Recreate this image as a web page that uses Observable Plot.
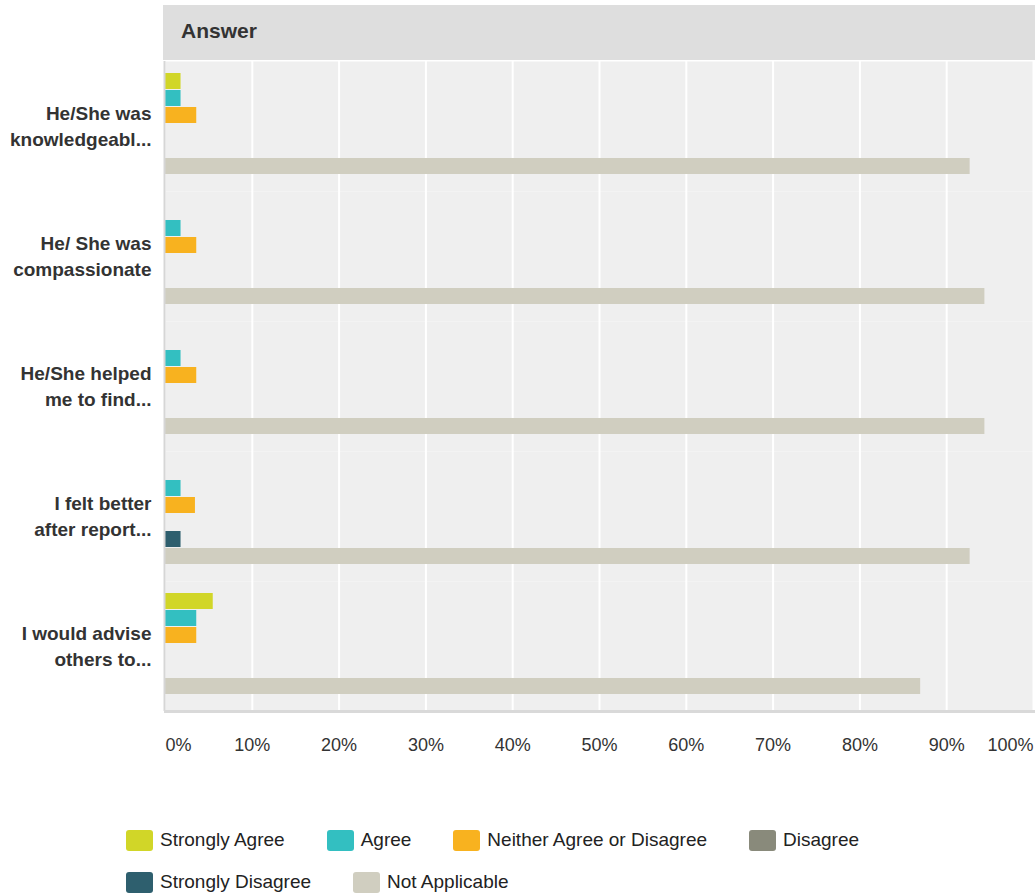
<!DOCTYPE html>
<html>
<head>
<meta charset="utf-8">
<script src="https://cdn.jsdelivr.net/npm/d3@7"></script>
<script src="https://cdn.jsdelivr.net/npm/@observablehq/plot@0.6"></script>
<style>
  body { margin: 0; background: #fff; font-family: "Liberation Sans", Arial, sans-serif; }
  #header { margin: 5px 0 0 163px; height: 55px; background: #dedede; color: #333; font-weight: bold; font-size: 21px; line-height: 52px; padding-left: 18px; box-sizing: border-box; }
  #legend { margin: 57px 0 0 126px; width: 820px; display: flex; flex-wrap: wrap; font-size: 19px; color: #222; }
  .item { display: flex; align-items: center; height: 42px; margin-right: 42px; }
  .sw { width: 27px; height: 21px; border-radius: 3px; margin-right: 7px; }
</style>
</head>
<body>
<div id="header">Answer</div>
<div id="chart"></div>
<div id="legend"></div>
<script>
const categories = [
  "He/She was\nknowledgeabl...",
  "He/ She was\ncompassionate",
  "He/She helped\nme to find...",
  "I felt better\nafter report...",
  "I would advise\nothers to..."
];
const series = ["Strongly Agree", "Agree", "Neither Agree or Disagree", "Disagree", "Strongly Disagree", "Not Applicable"];
const colors = ["#d1d628", "#33bfc1", "#f8b21f", "#898a7b", "#2e5f6e", "#d0cec0"];
const stronglyAgree = [1.79, 0, 0, 0, 5.5];
const agree = [1.79, 1.79, 1.79, 1.79, 3.6];
const neither = [3.6, 3.6, 3.6, 3.45, 3.6];
const disagree = [0, 0, 0, 0, 0];
const stronglyDisagree = [0, 0, 0, 1.79, 0];
const notApplicable = [92.7, 94.4, 94.4, 92.7, 87.0];
const xTicks = [0, 10, 20, 30, 40, 50, 60, 70, 80, 90, 100];

const values = [stronglyAgree, agree, neither, disagree, stronglyDisagree, notApplicable];
const data = [];
categories.forEach((c, ci) => series.forEach((s, si) => data.push({cat: c, series: s, value: values[si][ci]})));

const font = '"Liberation Sans", Arial, sans-serif';
const axisOpts = {tickFormat: d => d + "%", tickSize: 0, tickPadding: 27, fontSize: 18, fill: "#333", label: null};
const chart = Plot.plot({
  width: 1035,
  height: 702,
  marginLeft: 165,
  marginRight: 2,
  marginTop: 0,
  marginBottom: 50,
  style: {fontFamily: font, background: "transparent"},
  x: {domain: [0, 100], axis: null, label: null},
  y: {domain: series, axis: null, paddingInner: 0.03, paddingOuter: 0.76, align: 0.42},
  fy: {domain: categories, padding: 0, axis: null},
  color: {domain: series, range: colors},
  marks: [
    Plot.frame({fill: "#efefef", stroke: "none"}),
    Plot.gridX({ticks: xTicks.slice(1), stroke: "#ffffff", strokeOpacity: 1, strokeWidth: 2}),
    Plot.barX(data, {x: "value", y: "series", fy: "cat", fill: "series"}),
    Plot.ruleX([0], {stroke: "#d6d6d6", strokeWidth: 2, dx: -1}),
    Plot.frame({anchor: "bottom", facetAnchor: "bottom", stroke: "#d9d9d9", strokeWidth: 3}),
    Plot.text(categories, {fy: d => d, text: d => d, frameAnchor: "left", textAnchor: "end", dx: -14, dy: -2, fontSize: 19, fontWeight: "bold", fill: "#333", lineHeight: 1.37}),
    Plot.axisX({...axisOpts, ticks: xTicks.slice(1, -1)}),
    Plot.axisX({...axisOpts, ticks: [xTicks[0]], textAnchor: "start"}),
    Plot.axisX({...axisOpts, ticks: [xTicks[xTicks.length - 1]], textAnchor: "end"})
  ]
});
document.getElementById("chart").appendChild(chart);

const legend = document.getElementById("legend");
series.forEach((s, i) => {
  const item = document.createElement("div");
  item.className = "item";
  const sw = document.createElement("span");
  sw.className = "sw";
  sw.style.background = colors[i];
  const t = document.createElement("span");
  t.textContent = s;
  item.appendChild(sw);
  item.appendChild(t);
  legend.appendChild(item);
});
</script>
</body>
</html>
